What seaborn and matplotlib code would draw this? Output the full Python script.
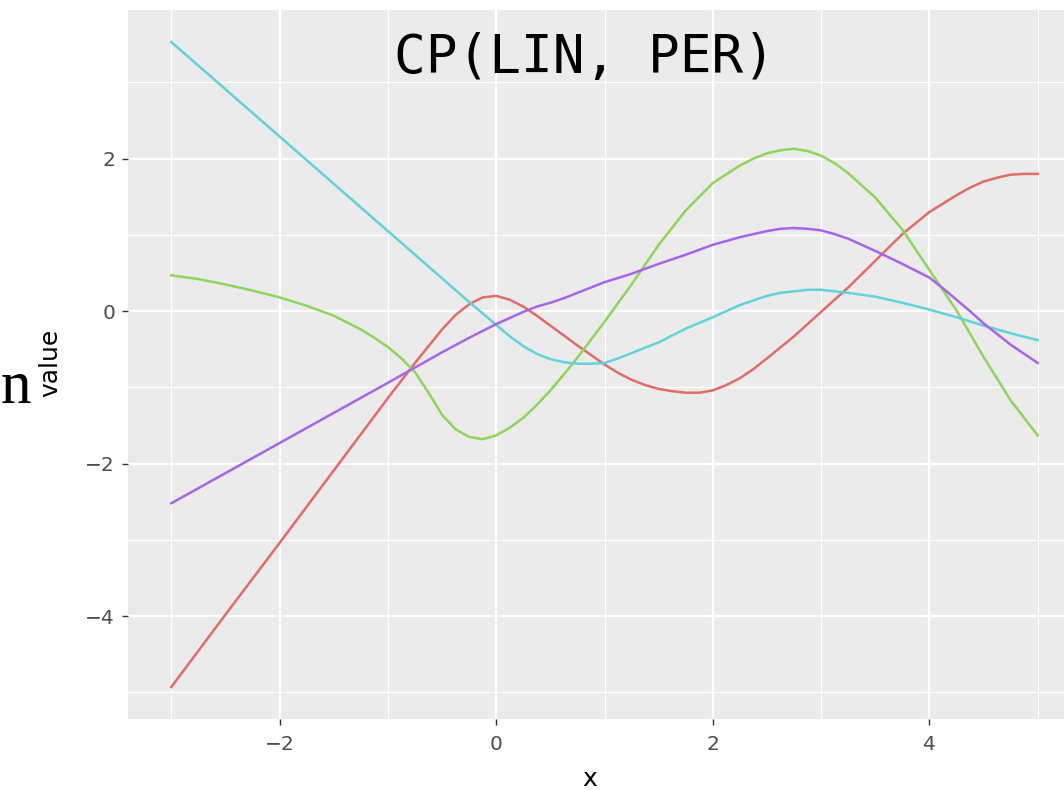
import numpy as np
import pandas as pd
import matplotlib
matplotlib.use("Agg")
import matplotlib.pyplot as plt
import seaborn as sns

# ---- data ----
x_red = [-3, -2.5, -2, -1.5, -1, -0.75, -0.625, -0.5, -0.375, -0.25, -0.125, 0, 0.125,
         0.25, 0.375, 0.5, 0.75, 1, 1.125, 1.25, 1.375, 1.5, 1.625, 1.75, 1.875, 2,
         2.125, 2.25, 2.375, 2.5, 2.75, 3, 3.25, 3.5, 3.75, 4, 4.25, 4.375, 4.5, 4.625,
         4.75, 4.875, 5]
red = [-4.93, -3.98, -3.04, -2.09, -1.14, -0.68, -0.46, -0.24, -0.05, 0.09, 0.18, 0.20,
       0.15, 0.06, -0.06, -0.19, -0.45, -0.70, -0.81, -0.90, -0.97, -1.02, -1.05, -1.07,
       -1.07, -1.04, -0.97, -0.88, -0.76, -0.62, -0.33, -0.01, 0.31, 0.66, 1.01, 1.30,
       1.52, 1.62, 1.70, 1.75, 1.79, 1.80, 1.80]

x_green = [-3, -2.75, -2.5, -2.25, -2, -1.75, -1.5, -1.25, -1.125, -1, -0.875, -0.75,
           -0.625, -0.5, -0.375, -0.25, -0.125, 0, 0.125, 0.25, 0.375, 0.5, 0.625, 0.75,
           1, 1.25, 1.5, 1.75, 2, 2.25, 2.375, 2.5, 2.625, 2.75, 2.875, 3, 3.125, 3.25,
           3.5, 3.75, 4, 4.25, 4.5, 4.75, 5]
green = [0.47, 0.42, 0.35, 0.27, 0.18, 0.07, -0.06, -0.24, -0.35, -0.47, -0.62, -0.80,
         -1.07, -1.36, -1.55, -1.65, -1.68, -1.63, -1.53, -1.40, -1.23, -1.04, -0.83,
         -0.61, -0.14, 0.35, 0.87, 1.32, 1.68, 1.91, 2.00, 2.07, 2.11, 2.13, 2.10, 2.04,
         1.94, 1.81, 1.49, 1.07, 0.54, 0.01, -0.60, -1.17, -1.63]

x_cyan = [-3, -2, -1, -0.5, -0.25, -0.125, 0, 0.125, 0.25, 0.375, 0.5, 0.625, 0.75,
          0.875, 1, 1.125, 1.25, 1.5, 1.75, 2, 2.25, 2.5, 2.625, 2.75, 2.875, 3, 3.25,
          3.5, 3.75, 4, 4.25, 4.5, 4.75, 5]
cyan = [3.53, 2.29, 1.05, 0.43, 0.12, -0.03, -0.18, -0.33, -0.46, -0.56, -0.63, -0.67,
        -0.69, -0.69, -0.68, -0.62, -0.55, -0.41, -0.23, -0.08, 0.08, 0.20, 0.24, 0.26,
        0.28, 0.28, 0.24, 0.19, 0.11, 0.02, -0.08, -0.19, -0.29, -0.38]

x_purple = [-3, -2, -1, -0.5, -0.25, 0, 0.25, 0.375, 0.5, 0.625, 0.75, 1, 1.25, 1.5,
            1.75, 2, 2.25, 2.5, 2.625, 2.75, 2.875, 3, 3.125, 3.25, 3.5, 3.75, 4,
            4.125, 4.25, 4.375, 4.5, 4.75, 5]
purple = [-2.52, -1.73, -0.94, -0.54, -0.35, -0.17, -0.01, 0.06, 0.11, 0.17, 0.24, 0.38,
          0.49, 0.62, 0.74, 0.87, 0.97, 1.05, 1.08, 1.09, 1.08, 1.06, 1.01, 0.95, 0.79,
          0.62, 0.44, 0.30, 0.15, 0.00, -0.16, -0.44, -0.68]

series_names = ["1", "2", "3", "4"]
series_x = [x_red, x_green, x_cyan, x_purple]
series_values = [red, green, cyan, purple]
colors = ["#E06E66", "#8DD65C", "#62D3DA", "#A766EA"]

xticks = [-2, 0, 2, 4]
yticks = [-4, -2, 0, 2]
title = "CP(LIN, PER)"

df = pd.concat([pd.DataFrame({"x": xs, "value": v, "series": n})
                for n, xs, v in zip(series_names, series_x, series_values)],
               ignore_index=True)

W, H = 1064, 790
fig = plt.figure(figsize=(W / 100, H / 100), dpi=100)
fig.patch.set_facecolor("white")
ax = fig.add_axes([128 / W, (H - 719) / H, (1081 - 128) / W, (719 - 10) / H])
ax.set_facecolor("#EBEBEB")

sns.lineplot(data=df, x="x", y="value", hue="series", hue_order=series_names,
             palette=colors, linewidth=1.8, legend=False, ax=ax, sort=False)

ax.set_xlim(-3.4, 5.4)
ax.set_ylim(-5.35, 3.95)
ax.set_xticks(xticks)
ax.set_yticks(yticks)
ax.set_xticklabels([str(t).replace("-", "\u2212") for t in xticks])
ax.set_yticklabels([str(t).replace("-", "\u2212") for t in yticks])
ax.set_xticks([-3, -1, 1, 3, 5], minor=True)
ax.set_yticks([-5, -3, -1, 1, 3], minor=True)
ax.grid(which="major", color="white", linewidth=1.6)
ax.grid(which="minor", color="white", linewidth=0.8)
ax.set_axisbelow(True)
for s in ax.spines.values():
    s.set_visible(False)
ax.tick_params(which="major", length=4.3, width=1.0, color="#333333",
               labelcolor="#4D4D4D", labelsize=14.5, pad=5)
ax.tick_params(axis="x", pad=7)
ax.tick_params(which="minor", length=0)
ax.set_xlabel("")
ax.set_ylabel("")

def px(xp, yp):
    return xp / W, 1 - yp / H

fig.text(*px(585, 73), title, family="DejaVu Sans Mono", fontsize=38,
         color="black", ha="center", va="baseline")
fig.text(*px(50, 363), "value", fontsize=18, rotation=90, ha="center",
         va="center", color="black")
fig.text(*px(590, 767), "x", fontsize=18, ha="center", va="top", color="black")
fig.text(*px(0.5, 403), "n", family=["Liberation Serif", "DejaVu Serif"],
         fontsize=44, ha="left", va="baseline", color="black")

fig.savefig("out.png", dpi=100)
